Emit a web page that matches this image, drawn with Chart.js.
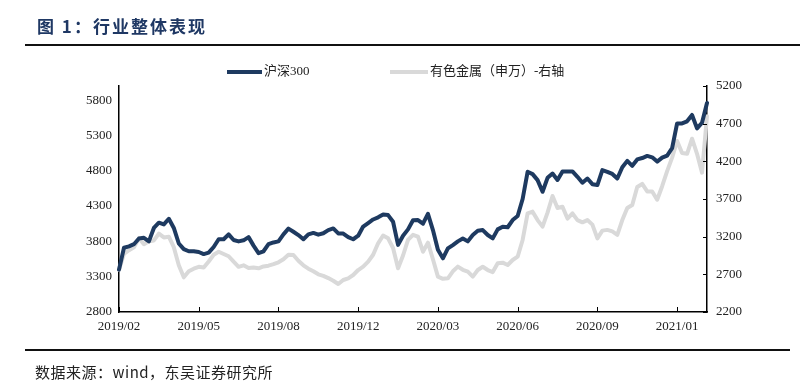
<!DOCTYPE html>
<html>
<head>
<meta charset="utf-8">
<script src="https://cdn.jsdelivr.net/npm/chart.js@4/dist/chart.umd.min.js"></script>
<style>
  html, body { margin: 0; padding: 0; background: #fff; }
  #wrap { position: relative; width: 800px; height: 391px; overflow: hidden; }
  #chart { position: absolute; left: 0; top: 0; }
  .title { position: absolute; left: 37px; top: 13px; font: bold 17px "Noto Sans CJK SC", sans-serif; color: #1F3864; letter-spacing: 2px; }
  .rule { position: absolute; left: 25px; right: 0; height: 2px; background: #111; }
  .source { position: absolute; left: 35px; top: 361px; font: 15px "Noto Sans CJK SC", serif; color: #222; letter-spacing: 0.5px; }
</style>
</head>
<body>
<div id="wrap">
  <canvas id="chart" width="800" height="391"></canvas>
  <div class="title">图 1：行业整体表现</div>
  <div class="rule" style="top:44px"></div>
  <div class="rule" style="top:349px; right:10px"></div>
  <div class="source">数据来源：wind，东吴证券研究所</div>
</div>
<script>
// ---- data ----
const tickLabels = ['2019/02','2019/05','2019/08','2019/12','2020/03','2020/06','2020/09','2021/01'];
const tickEvery = 16;
const seriesNames = ['沪深300', '有色金属（申万）-右轴'];

const hs300 = [
  3400,3710,3730,3760,3840,3850,3800,3990,4065,4040,
  4120,3990,3770,3690,3660,3660,3650,3620,3640,3720,
  3830,3830,3900,3820,3800,3815,3860,3740,3634,3660,
  3760,3785,3800,3900,3980,3936,3889,3830,3900,3920,
  3895,3915,3960,3983,3913,3910,3860,3830,3880,4010,
  4060,4110,4140,4180,4172,4078,3750,3880,3970,4100,
  4102,4050,4190,3960,3680,3560,3700,3748,3800,3842,
  3800,3890,3950,3960,3890,3842,3970,4007,4000,4102,
  4160,4400,4785,4752,4667,4502,4700,4761,4670,4790,
  4790,4790,4714,4630,4690,4610,4597,4809,4785,4755,
  4690,4850,4940,4870,4960,4980,5010,4990,4930,4985,
  5015,5120,5470,5470,5500,5590,5400,5480,5760
];

const metals = [
  2760,2970,3020,3060,3180,3100,3140,3150,3240,3190,
  3200,3060,2820,2660,2740,2775,2800,2790,2870,2960,
  3000,2970,2940,2868,2800,2820,2785,2790,2780,2805,
  2815,2835,2860,2900,2960,2956,2880,2820,2775,2740,
  2700,2680,2650,2615,2572,2625,2647,2691,2757,2802,
  2868,2960,3112,3215,3178,3050,2780,2950,3156,3225,
  3200,3000,3120,2900,2669,2640,2647,2740,2802,2760,
  2735,2670,2757,2800,2757,2730,2846,2855,2824,2890,
  2934,3156,3510,3532,3420,3333,3520,3740,3580,3598,
  3440,3510,3420,3390,3420,3360,3178,3280,3290,3270,
  3225,3420,3580,3620,3860,3900,3800,3800,3690,3870,
  4070,4250,4470,4310,4300,4500,4300,4050,4800
];

const leftTicks = [2800,3300,3800,4300,4800,5300,5800];
const rightTicks = [2200,2700,3200,3700,4200,4700,5200];

// category labels: one per point, tick label every 16 points
const categories = hs300.map((_, i) => (i % tickEvery === 0 ? (tickLabels[i / tickEvery] || '') : ''));

const darkColor = '#1E3A60';
const greyColor = '#D9D9D9';
const tickFont = { family: '"Liberation Serif", "Times New Roman", serif', size: 13 };
const plainNum = v => String(v);

const decorPlugin = {
  id: 'decor',
  afterDraw(chart) {
    const ctx = chart.ctx;
    const area = chart.chartArea;
    ctx.save();
    ctx.strokeStyle = '#000';
    ctx.lineWidth = 1;
    // inward tick marks on x axis
    const xs = chart.scales.x;
    xs.ticks.forEach(t => {
      const px = Math.round(xs.getPixelForValue(t.value)) + 0.5;
      ctx.beginPath(); ctx.moveTo(px, area.bottom); ctx.lineTo(px, area.bottom - 5); ctx.stroke();
    });
    // inward tick marks on right axis
    const yr = chart.scales.y1;
    yr.ticks.forEach(t => {
      const py = Math.round(yr.getPixelForValue(t.value)) + 0.5;
      ctx.beginPath(); ctx.moveTo(area.right, py); ctx.lineTo(area.right - 4, py); ctx.stroke();
    });
    // legend
    const items = [
      { x: 227, len: 35, color: darkColor, text: seriesNames[0] },
      { x: 390, len: 38, color: greyColor, text: seriesNames[1] }
    ];
    ctx.font = '13px "Liberation Serif", "Noto Sans CJK SC", sans-serif';
    ctx.textBaseline = 'middle';
    items.forEach(it => {
      ctx.strokeStyle = it.color;
      ctx.lineWidth = 4;
      ctx.beginPath(); ctx.moveTo(it.x, 72); ctx.lineTo(it.x + it.len, 72); ctx.stroke();
      ctx.fillStyle = '#222';
      ctx.fillText(it.text, it.x + it.len + 2, 72);
    });
    ctx.restore();
  }
};

new Chart(document.getElementById('chart'), {
  type: 'line',
  data: {
    labels: categories,
    datasets: [
      { label: seriesNames[0], data: hs300, yAxisID: 'y', borderColor: darkColor, borderWidth: 4, pointRadius: 0, tension: 0, borderJoinStyle: 'round', borderCapStyle: 'round' },
      { label: seriesNames[1], data: metals, yAxisID: 'y1', borderColor: greyColor, borderWidth: 4, pointRadius: 0, tension: 0, borderJoinStyle: 'round', borderCapStyle: 'round' }
    ]
  },
  options: {
    responsive: false,
    animation: false,
    events: [],
    layout: { padding: { top: 86, left: 0, right: 0, bottom: 0 } },
    plugins: { legend: { display: false }, tooltip: { enabled: false } },
    scales: {
      x: {
        type: 'category',
        offset: false,
        grid: { display: true, drawOnChartArea: false, drawTicks: false },
        border: { display: true, color: '#000', width: 1.5 },
        ticks: { autoSkip: false, maxRotation: 0, minRotation: 0, padding: 7, color: '#222', font: tickFont },
        afterBuildTicks(scale) { scale.ticks = scale.ticks.filter(t => t.value % tickEvery === 0); },
        afterFit(scale) { scale.height = 79; }
      },
      y: {
        position: 'left',
        min: 2800, max: 6000,
        grid: { display: true, drawOnChartArea: false, drawTicks: false },
        border: { display: true, color: '#000', width: 1.5 },
        ticks: { padding: 7, color: '#222', font: tickFont, callback: plainNum },
        afterBuildTicks(scale) { scale.ticks = leftTicks.map(v => ({ value: v })); },
        afterFit(scale) { scale.width = 119; }
      },
      y1: {
        position: 'right',
        min: 2200, max: 5200,
        grid: { display: true, drawOnChartArea: false, drawTicks: false },
        border: { display: true, color: '#000', width: 1.5 },
        ticks: { padding: 9, color: '#222', font: tickFont, callback: plainNum },
        afterBuildTicks(scale) { scale.ticks = rightTicks.map(v => ({ value: v })); },
        afterFit(scale) { scale.width = 93; }
      }
    }
  },
  plugins: [decorPlugin]
});
</script>
</body>
</html>
